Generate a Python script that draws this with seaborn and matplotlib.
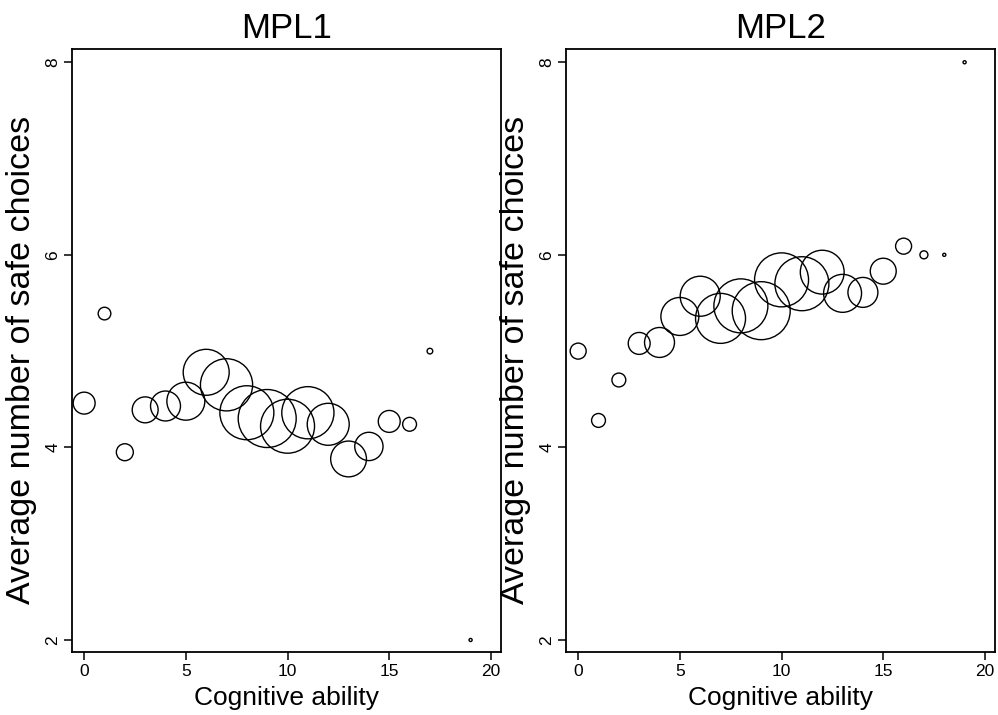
import matplotlib
matplotlib.use("Agg")
import matplotlib.pyplot as plt
import numpy as np
import pandas as pd
import seaborn as sns

# ---------------------------------------------------------------------------
# Data (bubble area ~ number of subjects)
# ---------------------------------------------------------------------------
cog_mpl1 = [0, 1, 2, 3, 4, 5, 6, 7, 8, 9, 10, 11, 12, 13, 14, 15, 16, 17, 19]
safe_mpl1 = [4.46, 5.39, 3.95, 4.39, 4.43, 4.48, 4.78, 4.65, 4.36, 4.30,
             4.22, 4.36, 4.24, 3.88, 4.01, 4.27, 4.24, 5.00, 2.00]
n_mpl1 = [15, 5, 9, 21, 28, 45, 66, 85, 91, 105, 91, 85, 55, 40, 25, 15, 6, 1, 0.3]

cog_mpl2 = [0, 1, 2, 3, 4, 5, 6, 7, 8, 9, 10, 11, 12, 13, 14, 15, 16, 17, 18, 19]
safe_mpl2 = [5.00, 4.28, 4.70, 5.08, 5.09, 5.36, 5.57, 5.34, 5.47, 5.42,
             5.74, 5.70, 5.82, 5.60, 5.61, 5.83, 6.09, 6.00, 6.00, 8.00]
n_mpl2 = [8, 6, 6, 15, 28, 45, 50, 78, 91, 105, 91, 91, 60, 45, 28, 21, 8, 2, 0.3, 0.3]

panels = {
    "MPL1": pd.DataFrame({"cog": cog_mpl1, "safe": safe_mpl1, "n": n_mpl1}),
    "MPL2": pd.DataFrame({"cog": cog_mpl2, "safe": safe_mpl2, "n": n_mpl2}),
}

x_ticks = [0, 5, 10, 15, 20]
y_ticks = [2, 4, 6, 8]

N_MAX = 105
S_MAX = 16.6 * N_MAX   # marker area (pt^2) for the largest bubble

# ---------------------------------------------------------------------------
# Plot
# ---------------------------------------------------------------------------
sns.set_style("ticks")
plt.rcParams["font.family"] = ["Liberation Sans", "DejaVu Sans"]
plt.rcParams["text.color"] = "black"
plt.rcParams["axes.labelcolor"] = "black"

fig = plt.figure(figsize=(9.98, 7.15), dpi=100)
ax_pos = [[0.0721, 0.0881, 0.430, 0.843],
          [0.5671, 0.0881, 0.430, 0.843]]

for (name, df), pos in zip(panels.items(), ax_pos):
    ax = fig.add_axes(pos)
    sns.scatterplot(data=df, x="cog", y="safe", size="n",
                    sizes=(0, S_MAX), size_norm=(0, N_MAX),
                    color="black", facecolors="none", edgecolor="black",
                    linewidth=1.0, legend=False, ax=ax)

    ax.set_xlim(-0.6, 20.5)
    ax.set_ylim(1.875, 8.135)
    ax.set_xticks(x_ticks)
    ax.set_yticks(y_ticks)
    ax.tick_params(direction="out", length=5.5, width=1.1, labelsize=12.5,
                   pad=3, colors="black")
    for lab in ax.get_yticklabels():
        lab.set_rotation(90)
        lab.set_va("center")

    for sp in ax.spines.values():
        sp.set_visible(True)
        sp.set_linewidth(1.3)
        sp.set_color("black")

    ax.set_title(name, fontsize=25, pad=8, color="black")
    ax.set_xlabel("Cognitive ability", fontsize=19, color="black")
    ax.set_ylabel("Average number of safe choices", fontsize=24.5, color="black")
    ax.xaxis.set_label_coords(0.5, -0.056)
    ax.yaxis.set_label_coords(-0.082, 0.485)

fig.savefig("out.png", dpi=100, facecolor="white")
